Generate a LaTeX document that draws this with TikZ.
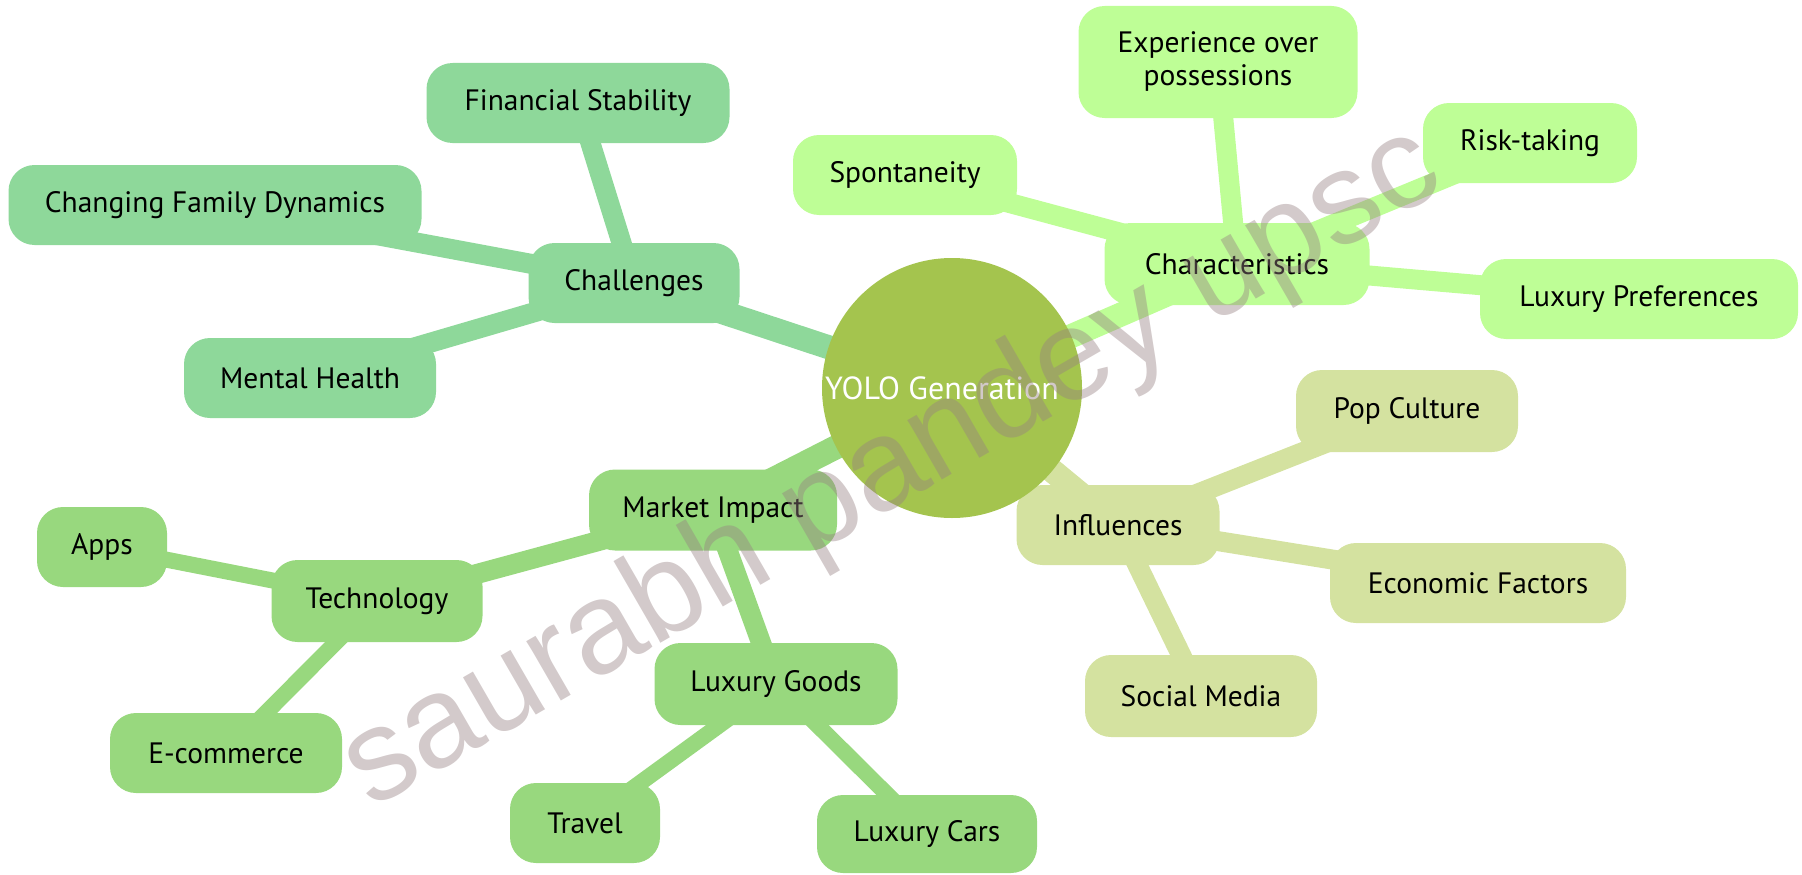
\documentclass[tikz,border=0pt]{standalone}
\usepackage{fontspec}
\setmainfont{PT Sans}
\newfontfamily\wmfont{Liberation Sans}
\definecolor{cA}{RGB}{142,216,154}
\definecolor{cB}{RGB}{190,254,150}
\definecolor{cC}{RGB}{212,226,160}
\definecolor{cD}{RGB}{152,216,126}
\definecolor{cR}{RGB}{164,196,78}
\definecolor{wm}{RGB}{150,128,130}
\pgfdeclarelayer{bg}
\pgfdeclarelayer{fg}
\pgfsetlayers{bg,main,fg}
\tikzset{
  box/.style={rounded corners=26pt, inner sep=0pt, minimum height=80pt, align=center,
    font=\fontsize{29.5}{33}\selectfont, text=black},
  ga/.style={box, fill=cA}, gb/.style={box, fill=cB}, gc/.style={box, fill=cC}, gd/.style={box, fill=cD},
  lone/.style={line width=24pt},
  ltwo/.style={line width=20pt},
  lthree/.style={line width=16pt},
}
\begin{document}
\begin{tikzpicture}[x=1pt,y=-1pt]
\useasboundingbox (0,0) rectangle (1802,875);
% nodes
\node[ga, minimum width=211pt] (chal) at (634,283) {Challenges};
\node[ga, minimum width=303pt] (fin) at (578,103) {Financial Stability};
\node[ga, minimum width=413pt] (cfd) at (215,205) {Changing Family Dynamics};
\node[ga, minimum width=252pt] (mh) at (310,378) {Mental Health};
\node[gb, minimum width=265pt, minimum height=82pt] (char) at (1237,264) {Characteristics};
\node[gb, minimum width=279pt, minimum height=112pt] (exp) at (1218,62) {Experience over\\possessions};
\node[gb, minimum width=214pt] (risk) at (1530,143) {Risk-taking};
\node[gb, minimum width=318pt] (lux) at (1639,299) {Luxury Preferences};
\node[gb, minimum width=224pt] (spon) at (905,175) {Spontaneity};
\node[gc, minimum width=203pt] (infl) at (1118,525) {Influences};
\node[gc, minimum width=222pt, minimum height=82pt] (pop) at (1407,411) {Pop Culture};
\node[gc, minimum width=296pt] (eco) at (1478,583) {Economic Factors};
\node[gc, minimum width=232pt, minimum height=82pt] (soc) at (1201,696) {Social Media};
\node[gd, minimum width=248pt, minimum height=81pt] (mi) at (713,510) {Market Impact};
\node[gd, minimum width=211pt, minimum height=82pt] (tech) at (377,601) {Technology};
\node[gd, minimum width=130pt] (apps) at (102,547) {Apps};
\node[gd, minimum width=232pt] (ecom) at (226,753) {E-commerce};
\node[gd, minimum width=243pt, minimum height=82pt] (lg) at (776,684) {Luxury Goods};
\node[gd, minimum width=150pt] (trav) at (585,823) {Travel};
\node[gd, minimum width=220pt, minimum height=78pt] (lcars) at (927,834) {Luxury Cars};
\node[circle, fill=cR, minimum size=260pt, inner sep=0pt] (root) at (952,388) {};
\node[text=white, font=\fontsize{32}{36}\selectfont, inner sep=0pt] (rootlabel) at (942,388) {YOLO Generation};
% edges
\begin{pgfonlayer}{bg}
\draw[lone, cA] (root.center) -- (chal.center);
\draw[lone, cB] (root.center) -- (char.center);
\draw[lone, cC] (root.center) -- (infl.center);
\draw[lone, cD] (root.center) -- (mi.center);
\draw[ltwo, cA] (chal.center) -- (fin.center);
\draw[ltwo, cA] (chal.center) -- (cfd.center);
\draw[ltwo, cA] (chal.center) -- (mh.center);
\draw[ltwo, cB] (char.center) -- (exp.center);
\draw[ltwo, cB] (char.center) -- (risk.center);
\draw[ltwo, cB] (char.center) -- (lux.center);
\draw[ltwo, cB] (char.center) -- (spon.center);
\draw[ltwo, cC] (infl.center) -- (pop.center);
\draw[ltwo, cC] (infl.center) -- (eco.center);
\draw[ltwo, cC] (infl.center) -- (soc.center);
\draw[ltwo, cD] (mi.center) -- (tech.center);
\draw[ltwo, cD] (mi.center) -- (lg.center);
\draw[lthree, cD] (tech.center) -- (apps.center);
\draw[lthree, cD] (tech.center) -- (ecom.center);
\draw[lthree, cD] (lg.center) -- (trav.center);
\draw[lthree, cD] (lg.center) -- (lcars.center);
\end{pgfonlayer}
% watermark
\begin{pgfonlayer}{fg}
\node[rotate=30, text=wm, text opacity=0.42, inner sep=0pt,
  font=\wmfont\fontsize{130}{130}\selectfont] (wmark) at (893,470) {saurabh pandey upsc};
\end{pgfonlayer}
\end{tikzpicture}
\end{document}
